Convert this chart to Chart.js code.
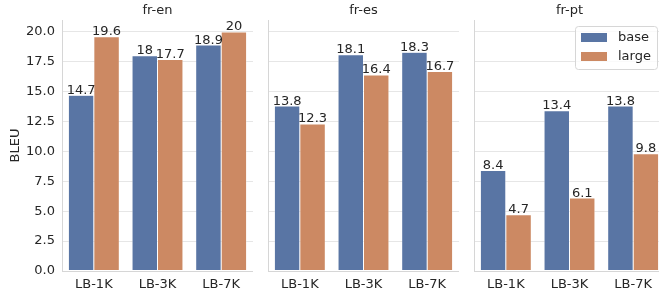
<!DOCTYPE html>
<html>
<head>
<meta charset="utf-8">
<script src="https://cdn.jsdelivr.net/npm/chart.js@4"></script>
<style>
  body { margin: 0; width: 659px; height: 290px; overflow: hidden; background: #fff; position: relative; }
  .panel { position: absolute; top: 0; }
</style>
</head>
<body>
<div class="panel" style="left:0px"><canvas id="c0" width="253" height="290"></canvas></div>
<div class="panel" style="left:266px"><canvas id="c1" width="193" height="290"></canvas></div>
<div class="panel" style="left:472px"><canvas id="c2" width="193" height="290"></canvas></div>
<script>
const categories = ["LB-1K", "LB-3K", "LB-7K"];
const panels = ["fr-en", "fr-es", "fr-pt"];
const seriesNames = ["base", "large"];
const baseVals = [
  [14.7, 18, 18.9],
  [13.8, 18.1, 18.3],
  [8.4, 13.4, 13.8],
];
const largeVals = [
  [19.6, 17.7, 20],
  [12.3, 16.4, 16.7],
  [4.7, 6.1, 9.8],
];
const yTicks = [0, 2.5, 5, 7.5, 10, 12.5, 15, 17.5, 20];

const colBase = "#5975a4";
const colLarge = "#cc8963";
const textCol = "#262626";
const fontFam = "'DejaVu Sans', sans-serif";

// value written above each bar
const barLabels = {
  id: "barLabels",
  afterDatasetsDraw(chart) {
    const ctx = chart.ctx;
    ctx.save();
    ctx.font = "13px " + fontFam;
    ctx.fillStyle = textCol;
    ctx.textAlign = "center";
    ctx.textBaseline = "alphabetic";
    chart.data.datasets.forEach((ds, i) => {
      chart.getDatasetMeta(i).data.forEach((bar, j) => {
        ctx.fillText(String(ds.data[j]), bar.x, bar.y - 1.5);
      });
    });
    ctx.restore();
  },
};

// framed legend inside the last panel
const boxLegend = {
  id: "boxLegend",
  afterDraw(chart) {
    if (!chart.options.plugins.boxLegend || !chart.options.plugins.boxLegend.show) return;
    const ctx = chart.ctx;
    ctx.save();
    const x = 103, y = 26, w = 82, h = 43;
    ctx.beginPath();
    ctx.roundRect(x + 0.5, y + 0.5, w, h, 3);
    ctx.fillStyle = "rgba(255,255,255,0.8)";
    ctx.fill();
    ctx.strokeStyle = "#d6d6d6";
    ctx.lineWidth = 1;
    ctx.stroke();
    ctx.font = "13px " + fontFam;
    ctx.textBaseline = "middle";
    ctx.textAlign = "left";
    chart.data.datasets.forEach((ds, i) => {
      const ry = 33 + i * 19;
      ctx.fillStyle = ds.backgroundColor;
      ctx.fillRect(109, ry, 26, 9);
      ctx.fillStyle = textCol;
      ctx.fillText(ds.label, 146, ry + 4.5);
    });
    ctx.restore();
  },
};

const charts = [];
panels.forEach((name, p) => {
  const first = p === 0;
  const ctx = document.getElementById("c" + p);
  charts.push(new Chart(ctx, {
    type: "bar",
    data: {
      labels: categories,
      datasets: [
        { label: seriesNames[0], data: baseVals[p], backgroundColor: colBase },
        { label: seriesNames[1], data: largeVals[p], backgroundColor: colLarge },
      ],
    },
    options: {
      responsive: false,
      animation: false,
      devicePixelRatio: 1,
      layout: { padding: 0 },
      datasets: {
        bar: {
          categoryPercentage: 0.8,
          barPercentage: 1.0,
          borderColor: "rgba(255,255,255,0.8)",
          borderWidth: 0.5,
          borderSkipped: false,
        },
      },
      plugins: {
        legend: { display: false },
        tooltip: { enabled: false },
        title: {
          display: true,
          text: name,
          fullSize: false,
          color: textCol,
          font: { family: fontFam, size: 13, weight: "normal" },
          padding: { top: 3, bottom: 1.4 },
        },
        boxLegend: { show: p === 2 },
      },
      scales: {
        x: {
          grid: { display: false, drawTicks: false },
          border: { display: true, color: "#d6d6d6", width: 1 },
          ticks: {
            color: textCol,
            padding: 6,
            font: { family: fontFam, size: 13 },
          },
          afterFit(scale) { scale.height = 19; },
        },
        y: {
          min: 0,
          max: 21,
          afterBuildTicks(scale) {
            scale.ticks = yTicks.map((v) => ({ value: v }));
          },
          grid: { color: "#e6e6e6", lineWidth: 1, drawTicks: false },
          border: { display: true, color: "#d6d6d6", width: 1 },
          ticks: {
            display: first,
            color: textCol,
            padding: 7,
            font: { family: fontFam, size: 13 },
            callback: (v) => Number(v).toFixed(1),
          },
          title: {
            display: first,
            text: "BLEU",
            color: textCol,
            font: { family: fontFam, size: 13 },
            padding: { top: 8, bottom: 0 },
          },
          afterFit(scale) { scale.width = first ? 62 : 2; },
        },
      },
    },
    plugins: [barLabels, boxLegend],
  }));
});
</script>
</body>
</html>
